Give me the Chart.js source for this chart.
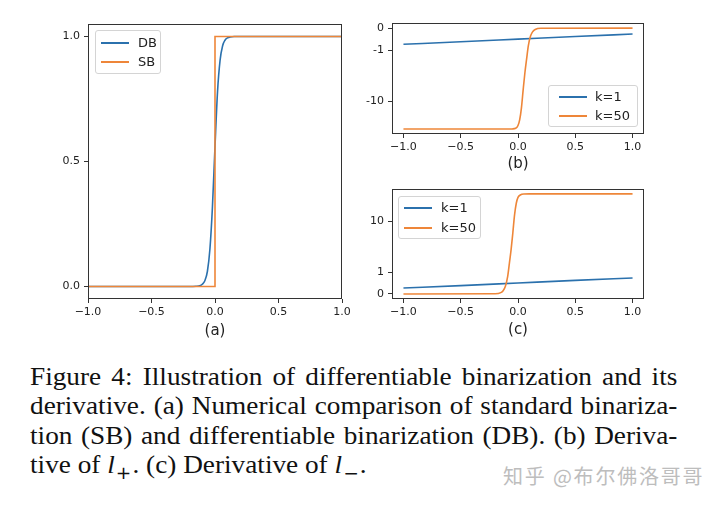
<!DOCTYPE html>
<html>
<head>
<meta charset="utf-8">
<script src="https://cdn.jsdelivr.net/npm/chart.js@4.4.1/dist/chart.umd.min.js"></script>
<style>
  html, body { margin: 0; padding: 0; background: #fff; }
  body { width: 720px; height: 505px; position: relative; overflow: hidden; }
  canvas { position: absolute; }
  #ca { left: 0; top: 0; }
  #cb { left: 360px; top: 0; }
  #cc { left: 360px; top: 175px; }
  .legend { position: absolute; box-sizing: border-box; border: 1px solid #d4d4d4; border-radius: 3px;
            background: rgba(255,255,255,0.85); font-family: 'DejaVu Sans', sans-serif; font-size: 13px; color: #222; }
  .legend .row { position: absolute; left: 0; right: 0; height: 20px; line-height: 20px; }
  .legend .handle { position: absolute; top: 9px; width: 28px; height: 2px; }
  .legend .lbl { position: absolute; top: 0; }
  .caption { position: absolute; left: 30px; top: 362px; width: 594px; font-family: 'Liberation Serif', 'Times New Roman', serif;
             font-size: 25px; line-height: 29.4px; color: #111; transform: scaleX(1.09); transform-origin: 0 0; }
  .caption .j { display: flex; justify-content: space-between; white-space: nowrap; }
  .caption sub { font-family: 'DejaVu Sans', sans-serif; font-size: 17px; vertical-align: -6px; line-height: 0; margin: 0 1px; }
  .mark { position: absolute; left: 503px; top: 461px; font-family: 'Noto Sans CJK SC', sans-serif; font-size: 20px;
          color: #bdbdbd; letter-spacing: 1.8px; white-space: nowrap; }
</style>
</head>
<body>
<canvas id="ca" width="360" height="345"></canvas>
<canvas id="cb" width="360" height="175"></canvas>
<canvas id="cc" width="360" height="170"></canvas>

<div class="caption">
  <div class="j">Figure 4: Illustration of differentiable binarization and its</div>
  <div class="j">derivative. (a) Numerical comparison of standard binariza-</div>
  <div class="j">tion (SB) and differentiable binarization (DB). (b) Deriva-</div>
  <div>tive of <i>l</i><sub>+</sub>. (c) Derivative of <i>l</i><sub>&minus;</sub>.</div>
</div>
<div class="mark">知乎 @布尔佛洛哥哥</div>

<script>
// tick positions
const xTicks = [-1, -0.5, 0, 0.5, 1];
const aTicksY = [0, 0.5, 1];
const bTicksY = [0, -1, -10];
const cTicksY = [0, 1, 10];

// (a) differentiable vs standard binarization
const dbX = [-1, -0.2, -0.15, -0.12, -0.1, -0.08, -0.06, -0.04, -0.02, 0, 0.02, 0.04, 0.06, 0.08, 0.1, 0.12, 0.15, 0.2, 1];
const dbY = [0, 0, 0.001, 0.003, 0.009, 0.023, 0.06, 0.15, 0.32, 0.56, 0.78, 0.905, 0.963, 0.986, 0.995, 0.998, 1, 1, 1];
const sbX = [-1, 0, 0, 1];
const sbY = [0, 0, 1, 1];

// (b) derivative of l+ , (c) derivative of l-
const k1X = [-1, -0.5, 0, 0.5, 1];
const bK1 = [-0.73, -0.62, -0.5, -0.38, -0.27];
const cK1 = [0.27, 0.38, 0.5, 0.62, 0.73];
const bK50X = [-1, -0.1, -0.05, -0.02, 0, 0.015, 0.03, 0.045, 0.06, 0.075, 0.09, 0.11, 0.13, 0.15, 0.2, 1];
const bK50 = [-35.2, -35.2, -35, -34, -30, -23, -13.5, -6, -2.8, -1.5, -0.8, -0.35, -0.15, -0.06, -0.01, 0];
const cK50X = [-1, -0.2, -0.15, -0.13, -0.11, -0.09, -0.075, -0.06, -0.045, -0.03, -0.015, 0, 0.02, 0.05, 0.1, 1];
const cK50 = [0, 0.01, 0.06, 0.15, 0.35, 0.8, 1.5, 2.8, 6, 13.5, 23, 30, 33.5, 35, 35.2, 35.2];

const BLUE = '#2b71ad';
const ORANGE = '#ee8639';
const INK = '#222';
const tickFont = { family: "'DejaVu Sans', sans-serif", size: 11 };

const pts = (xs, ys) => xs.map((x, i) => ({ x, y: ys[i] }));

// symlog: linear inside [-1, 1], log outside
const symT = v => Math.abs(v) <= 1 ? v : Math.sign(v) * (1 + Math.log(Math.abs(v)));
const symInv = t => Math.abs(t) <= 1 ? t : Math.sign(t) * Math.exp(Math.abs(t) - 1);

class SymlogScale extends Chart.LinearScale {
    configure() {
        super.configure();
        this._t0 = symT(this.min);
        this._tr = symT(this.max) - this._t0;
    }
    getPixelForValue(v) {
        return v === null ? NaN : this.getPixelForDecimal((symT(v) - this._t0) / this._tr);
    }
    getValueForPixel(p) {
        return symInv(this._t0 + this.getDecimalForPixel(p) * this._tr);
    }
}
SymlogScale.id = 'symlog';
SymlogScale.defaults = {};
Chart.register(SymlogScale);

// matplotlib-like box round the plot area
const frame = {
    id: 'frame',
    afterDatasetsDraw(chart) {
        const { ctx, chartArea: a } = chart;
        ctx.save();
        ctx.strokeStyle = '#333';
        ctx.lineWidth = 1;
        ctx.strokeRect(Math.round(a.left) + 0.5, Math.round(a.top) + 0.5,
            Math.round(a.right - a.left) - 1, Math.round(a.bottom - a.top) - 1);
        ctx.restore();
    }
};

const tickGrid = { display: true, drawOnChartArea: false, drawTicks: true, tickLength: 4, color: '#333' };

function xAxis(min, max, title, height, titlePad) {
    return {
        type: 'linear', min, max, bounds: 'data',
        afterBuildTicks: s => { s.ticks = xTicks.map(v => ({ value: v })); },
        afterFit: s => { s.height = height; },
        ticks: { callback: v => v.toFixed(1).replace('-', '\u2212'), font: tickFont, color: INK, padding: 3, maxRotation: 0, autoSkip: false },
        grid: tickGrid,
        border: { display: false },
        title: { display: true, text: title, color: INK, font: { family: "'DejaVu Sans', sans-serif", size: 15 }, padding: { top: 0, bottom: titlePad } }
    };
}

function yAxis(type, min, max, ticks, fmt, width) {
    return {
        type, min, max, bounds: 'data',
        afterBuildTicks: s => { s.ticks = ticks.map(v => ({ value: v })); },
        afterFit: s => { s.width = width; },
        ticks: { callback: fmt, font: tickFont, color: INK, padding: 4, autoSkip: false },
        grid: tickGrid,
        border: { display: false }
    };
}

function line(label, data, color, order, smooth) {
    return {
        label, data, borderColor: color, backgroundColor: color, borderWidth: 1.6,
        pointRadius: 0, fill: false, order,
        cubicInterpolationMode: smooth ? 'monotone' : 'default', tension: 0
    };
}

function makeChart(id, datasets, scales, padding) {
    return new Chart(document.getElementById(id), {
        type: 'line',
        data: { datasets },
        options: {
            responsive: false, animation: false, devicePixelRatio: 1,
            layout: { padding },
            plugins: { legend: { display: false }, tooltip: { enabled: false } },
            scales
        },
        plugins: [frame]
    });
}

// legend drawn as html inside the plot box
function htmlLegend(chart, box) {
    const el = document.createElement('div');
    el.className = 'legend';
    Object.assign(el.style, { left: box.left + 'px', top: box.top + 'px', width: box.width + 'px', height: box.height + 'px' });
    chart.data.datasets.forEach((ds, i) => {
        const row = document.createElement('div');
        row.className = 'row';
        row.style.top = (box.rowTop + i * box.rowGap) + 'px';
        const h = document.createElement('span');
        h.className = 'handle';
        h.style.left = box.handle + 'px';
        h.style.background = ds.borderColor;
        const t = document.createElement('span');
        t.className = 'lbl';
        t.style.left = box.text + 'px';
        t.textContent = ds.label;
        row.append(h, t);
        el.append(row);
    });
    document.body.append(el);
}

// justified caption lines: one span per word, spread by flexbox
document.querySelectorAll('.caption .j').forEach(div => {
    const words = div.textContent.trim().split(/\s+/);
    div.textContent = '';
    words.forEach(w => {
        const s = document.createElement('span');
        s.textContent = w;
        div.append(s);
    });
});

const chartA = makeChart('ca', [
    line('DB', pts(dbX, dbY), BLUE, 1, true),
    line('SB', pts(sbX, sbY), ORANGE, 0, false)
], {
    x: xAxis(-1, 1, '(a)', 46, 5),
    y: yAxis('linear', -0.05, 1.05, aTicksY, v => v.toFixed(1), 88)
}, { top: 24, right: 18, left: 0, bottom: 0 });

const chartB = makeChart('cb', [
    line('k=1', pts(k1X, bK1), BLUE, 1, true),
    line('k=50', pts(bK50X, bK50), ORANGE, 0, true)
], {
    x: xAxis(-1.1, 1.1, '(b)', 41, 2),
    y: yAxis('symlog', -44, 0.23, bTicksY, v => String(v), 32)
}, { top: 23, right: 76, left: 0, bottom: 0 });

const chartC = makeChart('cc', [
    line('k=1', pts(k1X, cK1), BLUE, 1, true),
    line('k=50', pts(cK50X, cK50), ORANGE, 0, true)
], {
    x: xAxis(-1.1, 1.1, '(c)', 46, 6),
    y: yAxis('symlog', -0.23, 44, cTicksY, v => String(v), 32)
}, { top: 14, right: 76, left: 0, bottom: 0 });

htmlLegend(chartA, { left: 95, top: 30, width: 66, height: 44, rowTop: 1.5, rowGap: 19.5, handle: 4.5, text: 42 });
htmlLegend(chartB, { left: 548, top: 85, width: 90, height: 42, rowTop: 1, rowGap: 19, handle: 10, text: 46 });
htmlLegend(chartC, { left: 398, top: 196, width: 83, height: 43, rowTop: 0.7, rowGap: 20, handle: 5, text: 42 });
</script>
</body>
</html>
